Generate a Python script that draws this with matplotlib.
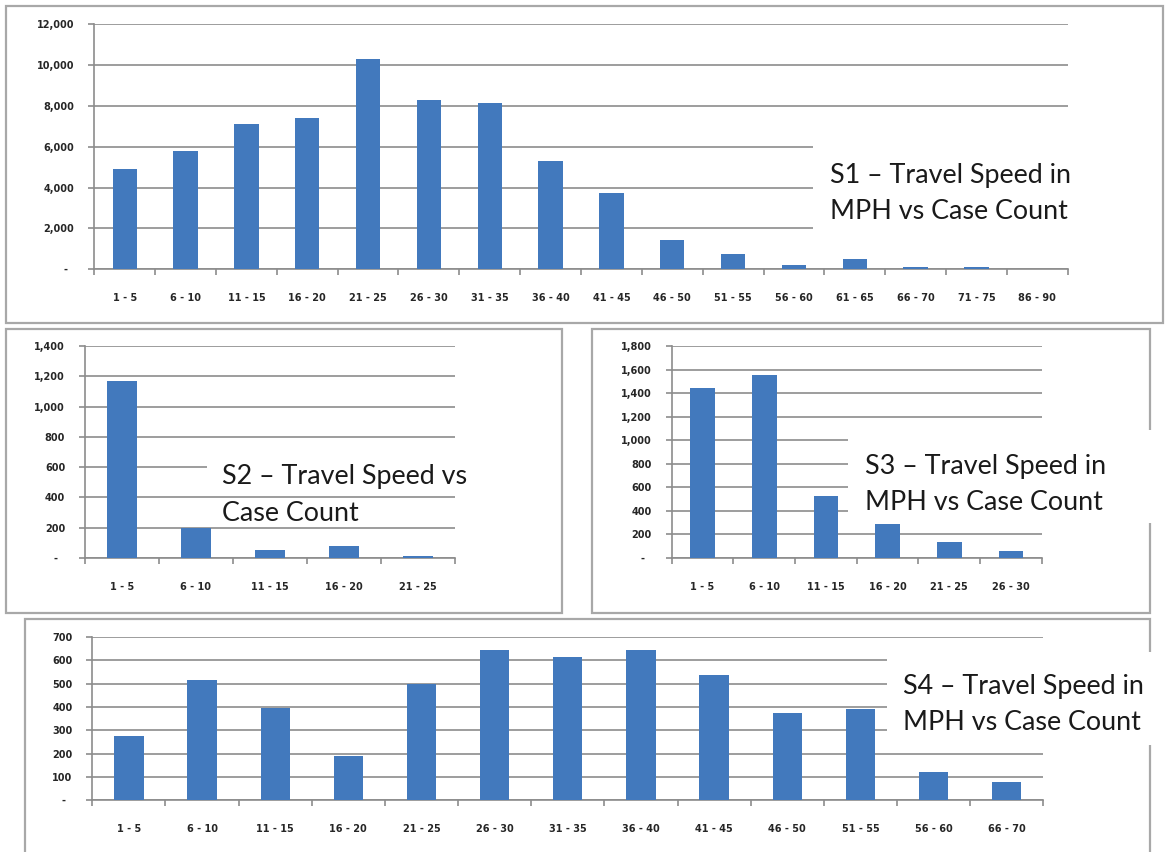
import matplotlib
matplotlib.use("Agg")
import matplotlib.pyplot as plt
from matplotlib.patches import Rectangle
from matplotlib.ticker import FixedLocator, FuncFormatter, NullFormatter

W, H = 1167, 852
BAR = "#4279bd"
GRID = "#8c8c8c"
FRAME = "#a8a8a8"

s1_bins = ["1 - 5", "6 - 10", "11 - 15", "16 - 20", "21 - 25", "26 - 30", "31 - 35", "36 - 40",
           "41 - 45", "46 - 50", "51 - 55", "56 - 60", "61 - 65", "66 - 70", "71 - 75", "86 - 90"]
s1_counts = [4900, 5800, 7100, 7400, 10300, 8300, 8150, 5300, 3750, 1450, 750, 200, 520, 100, 100, 30]

s2_bins = ["1 - 5", "6 - 10", "11 - 15", "16 - 20", "21 - 25"]
s2_counts = [1170, 200, 55, 80, 15]

s3_bins = ["1 - 5", "6 - 10", "11 - 15", "16 - 20", "21 - 25", "26 - 30"]
s3_counts = [1440, 1550, 530, 290, 135, 60]

s4_bins = ["1 - 5", "6 - 10", "11 - 15", "16 - 20", "21 - 25", "26 - 30", "31 - 35",
           "36 - 40", "41 - 45", "46 - 50", "51 - 55", "56 - 60", "66 - 70"]
s4_counts = [275, 515, 395, 190, 500, 645, 615, 645, 535, 375, 390, 120, 77]

plt.rcParams["font.family"] = ["Lato", "DejaVu Sans"]

TICK_FONT = dict(family="DejaVu Sans", weight="bold", size=7.0)


def px_rect(x0, y0, x1, y1):
    # pixel box (top-left origin) -> figure fraction [left, bottom, width, height]
    return [x0 / W, 1 - y1 / H, (x1 - x0) / W, (y1 - y0) / H]


def fmt_count(v, _pos=None):
    return "-  " if v == 0 else f"{v:,.0f}"


def draw_panel(fig, box, bins, counts, ymax, ystep):
    ax = fig.add_axes(px_rect(*box))
    n = len(bins)
    x = list(range(n))
    ax.bar(x, counts, width=0.4, color=BAR, zorder=3)
    ax.set_xlim(-0.5, n - 0.5)
    ax.set_ylim(0, ymax)
    ax.set_yticks(range(0, ymax + 1, ystep))
    ax.yaxis.set_major_formatter(FuncFormatter(fmt_count))
    ax.grid(axis="y", color=GRID, linewidth=1.2, zorder=1)
    ax.set_axisbelow(True)

    # ticks on category boundaries, labels at the centres
    ax.xaxis.set_major_locator(FixedLocator([i - 0.5 for i in range(n + 1)]))
    ax.xaxis.set_major_formatter(NullFormatter())
    ax.xaxis.set_minor_locator(FixedLocator(x))
    ax.set_xticklabels(bins, minor=True)
    ax.tick_params(axis="x", which="major", length=4.3, width=1.2, color=GRID, direction="out")
    ax.tick_params(axis="x", which="minor", length=0, pad=17, labelcolor="#262626")
    ax.tick_params(axis="y", length=4.3, width=1.2, color=GRID, pad=10, labelcolor="#262626")
    for lab in ax.get_xticklabels(minor=True) + ax.get_yticklabels():
        lab.set(**TICK_FONT)

    for side in ("top", "right"):
        ax.spines[side].set_visible(False)
    for side in ("left", "bottom"):
        ax.spines[side].set_color(GRID)
        ax.spines[side].set_linewidth(1.2)
    return ax


def panel_frame(fig, x0, y0, x1, y1):
    fig.patches.append(Rectangle((x0 / W, 1 - y1 / H), (x1 - x0) / W, (y1 - y0) / H,
                                 transform=fig.transFigure, fill=False, edgecolor=FRAME,
                                 linewidth=1.6, zorder=0.5))


def caption(fig, lines, x, baselines, box, size=19.4):
    x0, y0, x1, y1 = box
    fig.patches.append(Rectangle((x0 / W, 1 - y1 / H), (x1 - x0) / W, (y1 - y0) / H,
                                 transform=fig.transFigure, facecolor="white",
                                 edgecolor="none", zorder=5))
    for line, yb in zip(lines, baselines):
        fig.text(x / W, 1 - yb / H, line, fontsize=size, color="#1a1a1a",
                 ha="left", va="baseline", zorder=6)


fig = plt.figure(figsize=(W / 100, H / 100), dpi=100)

panel_frame(fig, 6, 6, 1163, 323)
panel_frame(fig, 6, 329, 562, 613)
panel_frame(fig, 592, 329, 1150, 613)
panel_frame(fig, 25, 619, 1150, 880)

draw_panel(fig, (94.3, 24, 1067.7, 269.3), s1_bins, s1_counts, 12000, 2000)
draw_panel(fig, (85, 346, 455, 558), s2_bins, s2_counts, 1400, 200)
draw_panel(fig, (671.7, 346, 1041.7, 558), s3_bins, s3_counts, 1800, 200)
draw_panel(fig, (92.3, 637, 1043.3, 800.3), s4_bins, s4_counts, 700, 100)

caption(fig, ["S1 \u2013 Travel Speed in", "MPH vs Case Count"], 830, [182.7, 219],
        (813, 124, 1090, 250))
caption(fig, ["S2 \u2013 Travel Speed vs", "Case Count"], 221.7, [484.3, 521],
        (207, 452, 470, 491))
caption(fig, ["S3 \u2013 Travel Speed in", "MPH vs Case Count"], 865, [473.7, 510.3],
        (848, 430, 1160, 523))
caption(fig, ["S4 \u2013 Travel Speed in", "MPH vs Case Count"], 903.3, [694.3, 729.7],
        (887, 652, 1160, 745))

fig.savefig("out.png", dpi=100, facecolor="white")
